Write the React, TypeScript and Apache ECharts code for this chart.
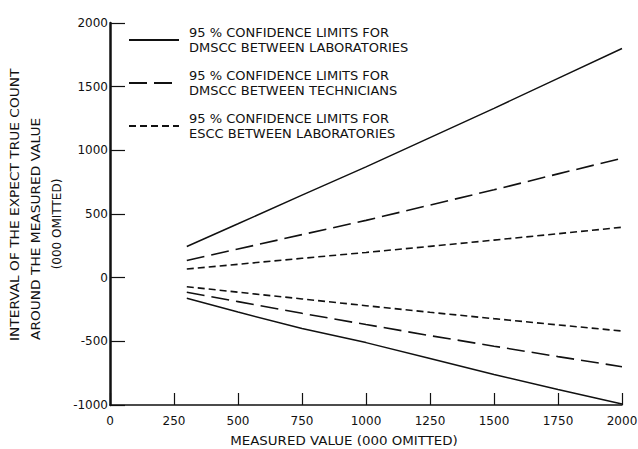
import React, { useEffect, useRef } from "react";
import * as echarts from "echarts";

// x positions (thousands) where the limit lines are read
const xValues = [300, 500, 750, 1000, 1250, 1500, 1750, 2000];
// DMSCC between laboratories (solid)
const labUpper = [245, 423, 648, 870, 1100, 1330, 1565, 1800];
const labLower = [-162, -270, -400, -510, -635, -760, -878, -992];
// DMSCC between technicians (long dash)
const techUpper = [135, 225, 338, 450, 570, 690, 815, 938];
const techLower = [-115, -188, -280, -368, -455, -538, -620, -699];
// ESCC between laboratories (short dash)
const esccUpper = [68, 105, 152, 198, 246, 295, 345, 396];
const esccLower = [-71, -114, -167, -220, -272, -322, -371, -419];

const seriesNames = [
  "95 % CONFIDENCE LIMITS FOR\nDMSCC BETWEEN LABORATORIES",
  "95 % CONFIDENCE LIMITS FOR\nDMSCC BETWEEN TECHNICIANS",
  "95 % CONFIDENCE LIMITS FOR\nESCC BETWEEN LABORATORIES",
];

const xAxisMin = 0;
const xAxisMax = 2000;
const xAxisStep = 250;
const yAxisMin = -1000;
const yAxisMax = 2000;
const yAxisStep = 500;

const yTitleLines = [
  "INTERVAL OF THE EXPECT TRUE COUNT",
  "AROUND THE MEASURED VALUE",
  "(000 OMITTED)",
];
const xTitle = "MEASURED VALUE (000 OMITTED)";

const FONT = "DejaVu Sans";

export default function App() {
  const ref = useRef<HTMLDivElement>(null);

  useEffect(() => {
    if (!ref.current) return;
    const chart = echarts.init(ref.current, null, { renderer: "svg" });

    const pair = (ys: number[]) => xValues.map((x, i) => [x, ys[i]]);
    const styles = [
      { type: "solid" as any, width: 1.5 },
      { type: [18, 7] as any, width: 1.6 },
      { type: [7, 4] as any, width: 1.6 },
    ];
    const groups = [
      [labUpper, labLower],
      [techUpper, techLower],
      [esccUpper, esccLower],
    ];
    const series: any[] = [];
    groups.forEach((g, gi) => {
      g.forEach((ys) => {
        series.push({
          type: "line",
          name: seriesNames[gi],
          data: pair(ys),
          symbol: "none",
          lineStyle: { color: "#111", ...styles[gi] },
          itemStyle: { color: "#111" },
          silent: true,
        });
      });
    });

    const titleText = (
      text: string,
      x: number,
      y: number,
      size: number,
      sx: number,
      align: string,
      rotated: boolean
    ) => ({
      type: "text",
      x,
      y,
      rotation: rotated ? Math.PI / 2 : 0,
      scaleX: sx,
      style: {
        text,
        fontFamily: FONT,
        fontSize: size,
        fill: "#111",
        textAlign: align,
        textVerticalAlign: "middle",
      },
    });

    chart.setOption({
      animation: false,
      backgroundColor: "#ffffff",
      grid: {
        left: 110,
        right: 16,
        top: 23,
        bottom: 44,
        containLabel: false,
        outerBoundsMode: "none",
      },
      legend: {
        data: seriesNames,
        orient: "vertical",
        left: 128,
        top: 25,
        padding: 0,
        itemWidth: 50,
        itemHeight: 10,
        itemGap: 13,
        selectedMode: false,
        itemStyle: { opacity: 0 },
        textStyle: {
          fontFamily: FONT,
          fontSize: 13,
          lineHeight: 15,
          color: "#111",
          padding: [0, 0, 0, 5],
        },
      },
      xAxis: {
        type: "value",
        min: xAxisMin,
        max: xAxisMax,
        interval: xAxisStep,
        splitLine: { show: false },
        axisLine: { onZero: false, lineStyle: { color: "#111", width: 1.5 } },
        axisTick: { inside: true, length: 12, lineStyle: { color: "#111", width: 1.2 } },
        axisLabel: {
          margin: 10,
          fontFamily: FONT,
          fontSize: 12,
          color: "#111",
          formatter: (v: number) => String(v),
        },
      },
      yAxis: {
        type: "value",
        min: yAxisMin,
        max: yAxisMax,
        interval: yAxisStep,
        splitLine: { show: false },
        axisLine: { show: true, onZero: false, lineStyle: { color: "#111", width: 2.5 } },
        axisTick: { show: true, inside: true, length: 15, lineStyle: { color: "#111", width: 1.2 } },
        axisLabel: {
          margin: 2,
          fontFamily: FONT,
          fontSize: 12,
          color: "#111",
          formatter: (v: number) => String(v),
        },
      },
      graphic: [
        titleText(yTitleLines[0], 14.5, 341, 12.5, 1.1, "left", true),
        titleText(yTitleLines[1], 36, 340, 12.5, 1.1, "left", true),
        titleText(yTitleLines[2], 57, 224, 12, 1, "center", true),
        titleText(xTitle, 344, 441, 13, 1.03, "center", false),
      ],
      series,
    });

    return () => chart.dispose();
  }, []);

  return (
    <div
      ref={ref}
      style={{ position: "absolute", left: 0, top: 0, width: 638, height: 449 }}
    />
  );
}
